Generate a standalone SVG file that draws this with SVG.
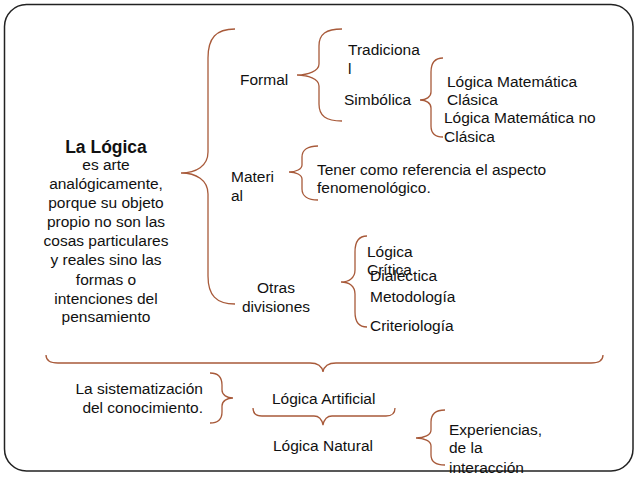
<svg xmlns="http://www.w3.org/2000/svg" width="638" height="479" viewBox="0 0 638 479">
<style>
text{font-family:"Liberation Sans",Arial,sans-serif;font-size:15.5px;fill:#111}
.c{text-anchor:middle}
.e{text-anchor:end}
.b{font-weight:bold;font-size:17.5px}
.br{fill:none;stroke:#a85a3a;stroke-width:1.3}
</style>
<rect x="4.5" y="4.5" width="628.5" height="466.5" rx="22" fill="#fff" stroke="#222" stroke-width="1.5"/>
<g id="connectors">
<path class="br" d="M235,29 C216,29 208,38 208,58 L208,152 C208,166 196,173 181,173 C196,173 208,180 208,194 L208,276 C208,295 216,304 235,304"/>
<path class="br" d="M342,29 C326,29 319,34 319,46 L319,64 C319,71 308,75 297,75 C308,75 319,79 319,86 L319,104 C319,116 326,121 342,121"/>
<path class="br" d="M443,58 C435,58 431,63 431,72 L431,92 C431,97 426,100 420,100 C426,100 431,103 431,108 L431,126 C431,133 435,137 443,137"/>
<path class="br" d="M318,146 C308,146 302,150 302,157 L302,165 C302,169 296,172 289,172 C296,172 302,175 302,179 L302,189 C302,196 308,200 318,200"/>
<path class="br" d="M367,236 C359,236 355,242 355,252 L355,270 C355,278 349,282 341,282 C349,282 355,286 355,294 L355,312 C355,322 359,327 367,327"/>
<path class="br" d="M46,355 C46,361 50,363 58,363 L310,363 C317,363 322,366 323,372 C324,366 329,363 336,363 L591,363 C599,363 603,361 603,355"/>
<path class="br" d="M210,373 C218,373 222,377 222,385 L222,390 C222,395 227,398 233,398 C227,398 222,401 222,406 L222,412 C222,419 218,423 210,423"/>
<path class="br" d="M253,408 C253,413 256,416 262,416 L314,416 C319,416 322,420 323,425 C324,420 327,416 332,416 L386,416 C392,416 395,413 395,408"/>
<path class="br" d="M445,410 C436,410 431,414 431,422 L431,430 C431,435 424,438 416,438 C424,438 431,441 431,446 L431,455 C431,462 436,465 445,465"/>
</g>
<g id="logica">
<text class="c b" x="106" y="153">La Lógica</text>
<text class="c" x="106" y="170">es arte</text>
<text class="c" x="106" y="189">analógicamente,</text>
<text class="c" x="106" y="208">porque su objeto</text>
<text class="c" x="106" y="227">propio no son las</text>
<text class="c" x="106" y="246">cosas particulares</text>
<text class="c" x="106" y="265">y reales sino las</text>
<text class="c" x="106" y="285">formas o</text>
<text class="c" x="106" y="304">intenciones del</text>
<text class="c" x="106" y="322">pensamiento</text>
</g>
<g id="formal"><text x="240" y="85">Formal</text></g>
<g id="tradicional"><text x="348" y="55">Tradiciona</text><text x="348" y="74">l</text></g>
<g id="simbolica"><text x="344" y="105">Simbólica</text></g>
<g id="clasica"><text x="447" y="87">Lógica Matemática</text><text x="447" y="105">Clásica</text></g>
<g id="noclasica"><text x="444" y="123">Lógica Matemática no</text><text x="444" y="142">Clásica</text></g>
<g id="material"><text x="231" y="182">Materi</text><text x="231" y="201">al</text></g>
<g id="tener"><text x="317" y="175">Tener como referencia el aspecto</text><text x="317" y="193">fenomenológico.</text></g>
<g id="otras"><text class="c" x="276" y="293">Otras</text><text class="c" x="276" y="312">divisiones</text></g>
<g id="critica"><text x="367" y="257">Lógica</text><text x="367" y="275">Crítica</text></g>
<g id="dialectica"><text x="370" y="281">Dialéctica</text></g>
<g id="metodologia"><text x="370" y="302">Metodología</text></g>
<g id="criteriologia"><text x="370" y="331">Criteriología</text></g>
<g id="sistematizacion"><text class="e" x="203" y="394">La sistematización</text><text class="e" x="203" y="413">del conocimiento.</text></g>
<g id="artificial"><text x="272" y="404">Lógica Artificial</text></g>
<g id="natural"><text x="273" y="451">Lógica Natural</text></g>
<g id="experiencias"><text x="449" y="435">Experiencias,</text><text x="449" y="453">de la</text><text x="449" y="473">interacción</text></g>
</svg>
